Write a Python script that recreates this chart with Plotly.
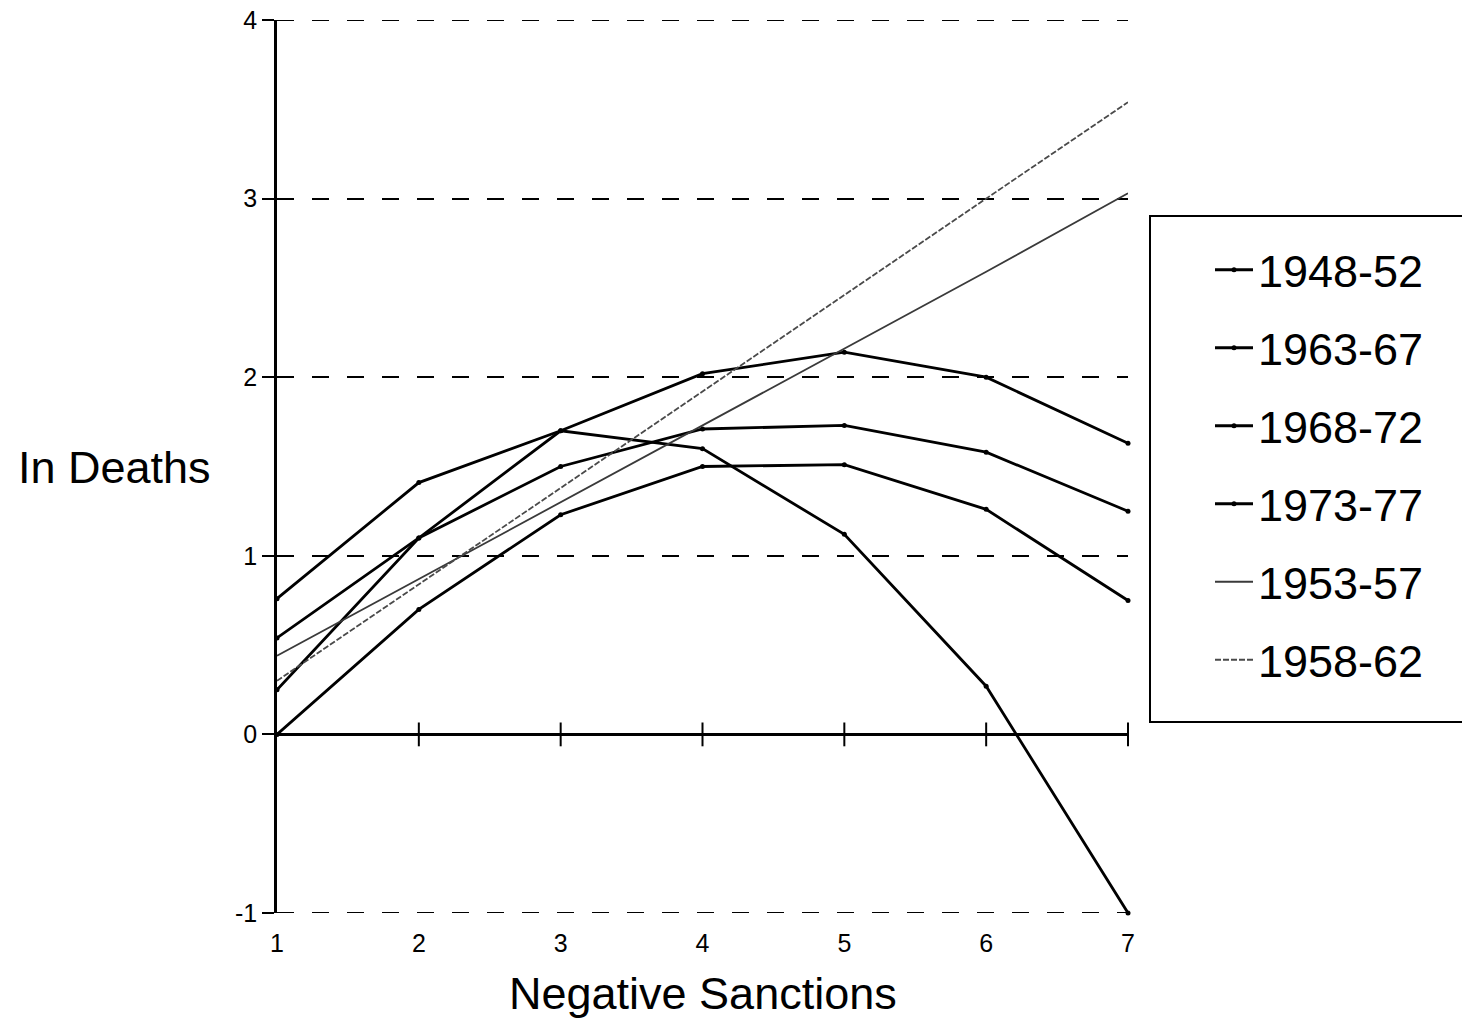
import plotly.graph_objects as go

# ---- data ----
sanctions = [1, 2, 3, 4, 5, 6, 7]
s1948_52 = [0.76, 1.41, 1.70, 2.02, 2.14, 2.00, 1.63]
s1963_67 = [0.25, 1.10, 1.70, 1.60, 1.12, 0.27, -1.00]
s1968_72 = [0.54, 1.10, 1.50, 1.71, 1.73, 1.58, 1.25]
s1973_77 = [0.00, 0.70, 1.23, 1.50, 1.51, 1.26, 0.75]
s1953_57 = [0.44, 0.87, 1.30, 1.73, 2.16, 2.59, 3.03]
s1958_62 = [0.30, 0.84, 1.38, 1.92, 2.46, 3.00, 3.54]
y_ticks = [-1, 0, 1, 2, 3, 4]
y_tick_labels = ["-1", "0", "1", "2", "3", "4"]
series_names = ["1948-52", "1963-67", "1968-72", "1973-77", "1953-57", "1958-62"]

FONT = "Liberation Sans, Arial, Helvetica, sans-serif"

fig = go.Figure()

black_series = [s1948_52, s1963_67, s1968_72, s1973_77]
for name, vals in zip(series_names[:4], black_series):
    fig.add_trace(go.Scatter(
        x=sanctions, y=vals, name=name, mode="lines+markers",
        line=dict(color="black", width=2.8),
        marker=dict(color="black", size=5),
        cliponaxis=False, legendgroup=name,
    ))

fig.add_trace(go.Scatter(
    x=sanctions, y=s1953_57, name=series_names[4], mode="lines",
    line=dict(color="#3a3a3a", width=1.8),
    cliponaxis=False, legendgroup=series_names[4],
))
fig.add_trace(go.Scatter(
    x=sanctions, y=s1958_62, name=series_names[5], mode="lines",
    line=dict(color="#4a4a4a", width=1.8, dash="6px,2px"),
    cliponaxis=False, legendgroup=series_names[5],
))

# tick marks crossing the zero line
fig.add_trace(go.Scatter(
    x=sanctions[1:], y=[0] * (len(sanctions) - 1), mode="markers",
    marker=dict(symbol="line-ns-open", size=17, color="black",
                line=dict(color="black", width=2)),
    showlegend=False, hoverinfo="skip", cliponaxis=False,
))

# dashed gridlines at the range ends (Plotly omits edge gridlines)
for yv in (y_ticks[0], y_ticks[-1]):
    fig.add_shape(type="line", xref="x", yref="y",
                  x0=sanctions[0], x1=sanctions[-1], y0=yv, y1=yv,
                  line=dict(color="black", width=2.2, dash="17px,18px"))

# page body adds an 8px offset; figure coordinates below are screen - 8
W, H = 1462, 1012
L, R, T, B = 269, 1120, 12, 905

# legend frame
fig.add_shape(type="rect", xref="paper", yref="paper",
              x0=(1142 - L) / (R - L), x1=(1460 - L) / (R - L),
              y0=(B - 714) / (B - T), y1=(B - 208) / (B - T),
              line=dict(color="black", width=2), fillcolor="white", layer="below")

fig.add_annotation(text="In Deaths", xref="paper", yref="paper",
                   x=(106 - L) / (R - L), y=(B - 459) / (B - T),
                   xanchor="center", yanchor="middle",
                   showarrow=False, font=dict(family=FONT, size=45, color="black"))
fig.add_annotation(text="Negative Sanctions", xref="paper", yref="paper",
                   x=(695 - L) / (R - L), y=(B - 985) / (B - T),
                   xanchor="center", yanchor="middle",
                   showarrow=False, font=dict(family=FONT, size=45, color="black"))

fig.update_layout(
    width=W, height=H,
    margin=dict(l=L, r=W - R, t=T, b=H - B, autoexpand=False),
    paper_bgcolor="white", plot_bgcolor="white",
    font=dict(family=FONT, color="black"),
    showlegend=True,
    legend=dict(
        x=(1202 - L) / (R - L), y=(B - 226) / (B - T),
        xanchor="left", yanchor="top",
        bgcolor="rgba(0,0,0,0)", borderwidth=0,
        font=dict(family=FONT, size=45, color="black"),
        tracegroupgap=16.5, itemwidth=38,
    ),
    xaxis=dict(range=[1, 7], tickvals=sanctions, showgrid=False, zeroline=False,
               showline=False, ticks="outside", ticklen=8,
               tickcolor="rgba(0,0,0,0)", tickfont=dict(size=25, family=FONT),
               ticklabeloverflow="allow"),
    yaxis=dict(range=[-1, 4], tickvals=y_ticks, ticktext=y_tick_labels,
               showgrid=True, gridcolor="black",
               griddash="17px,18px", gridwidth=2.2,
               showline=True, linecolor="black", linewidth=2.5,
               ticks="outside", ticklen=12, tickwidth=2, tickcolor="black",
               zeroline=True, zerolinecolor="black", zerolinewidth=2.5,
               tickfont=dict(size=25, family=FONT),
               ticklabeloverflow="allow"),
)

fig.write_html("out.html")
